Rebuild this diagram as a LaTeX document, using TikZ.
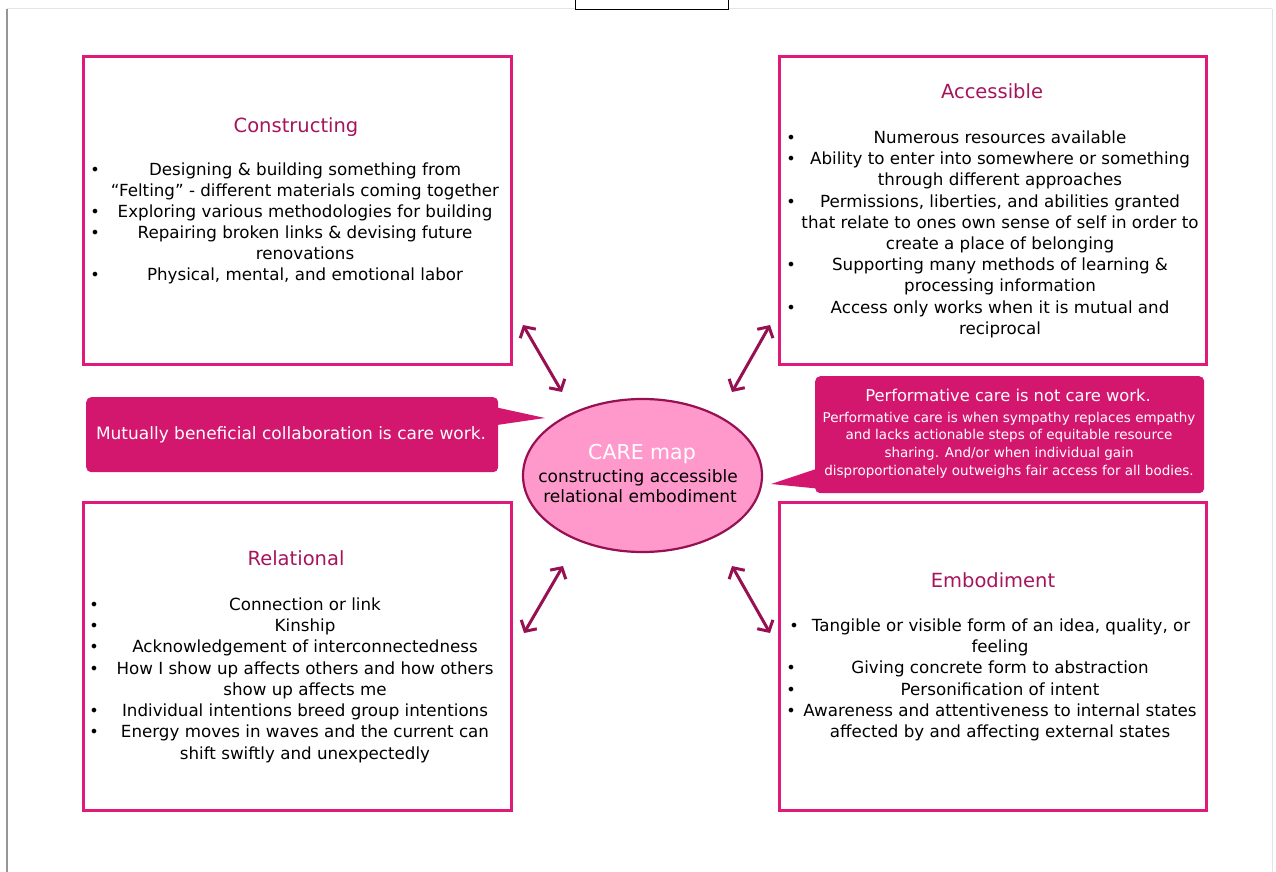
\documentclass[tikz,border=0pt]{standalone}
\usepackage{fontspec}
\setmainfont{DejaVu Sans}
\usetikzlibrary{arrows.meta,shapes.geometric}
\definecolor{boxpink}{RGB}{224,26,122}
\definecolor{callfill}{RGB}{211,23,111}
\definecolor{ellfill}{RGB}{255,153,204}
\definecolor{darkmag}{RGB}{150,16,82}
\definecolor{titlecol}{RGB}{165,20,92}
\definecolor{framegray}{RGB}{150,150,150}
\definecolor{framelight}{RGB}{228,228,228}
\begin{document}
\begin{tikzpicture}[x=1pt,y=-1pt,
  panel/.style={draw=boxpink, line width=3pt},
  ttl/.style={anchor=base, text=titlecol, font=\fontsize{19.5}{22}\selectfont, inner sep=0pt},
  ln/.style={anchor=base, font=\fontsize{16.7}{19}\selectfont, inner sep=0pt},
  bul/.style={anchor=base, font=\fontsize{16}{18}\selectfont, inner sep=0pt},
  wln/.style={anchor=base, text=white, inner sep=0pt},
  conn/.style={draw=darkmag, line width=3pt, {Straight Barb[length=8pt,width=18pt]}-{Straight Barb[length=8pt,width=18pt]}},
  callbox/.style={fill=callfill, rounded corners=5pt, inner sep=0pt}
]
\useasboundingbox (0,0) rectangle (1276,872);
% page frame
\draw[framelight, line width=1pt] (7,9) -- (1272,9);
\draw[framelight, line width=1pt] (1272,9) -- (1272,872);
\draw[framegray, line width=1.4pt] (7,9) -- (7,872);
\draw[black, fill=white, line width=0.8pt] (575,-2) rectangle (728,9);

% panels
\draw[panel] (83,57) rectangle (511,364);
\draw[panel] (779,57) rectangle (1206,364);
\draw[panel] (83,502) rectangle (511,810);
\draw[panel] (779,502) rectangle (1206,810);

% Constructing
\node[ttl] (ct) at (296,132) {Constructing};
\node[bul] (cb1) at (95,175) {•};
\node[ln] (c1) at (305,175) {Designing \& building something from};
\node[ln] (c2) at (305,196) {“Felting” - different materials coming together};
\node[bul] (cb3) at (95,217) {•};
\node[ln] (c3) at (305,217) {Exploring various methodologies for building};
\node[bul] (cb4) at (95,238) {•};
\node[ln] (c4) at (305,238) {Repairing broken links \& devising future};
\node[ln] (c5) at (305,259) {renovations};
\node[bul] (cb6) at (95,280) {•};
\node[ln] (c6) at (305,280) {Physical, mental, and emotional labor};

% Accessible
\node[ttl] (at) at (992,99) {Accessible};
\node[bul] (ab1) at (791,143) {•};
\node[ln] (a1) at (1000,143) {Numerous resources available};
\node[bul] (ab2) at (791,164) {•};
\node[ln] (a2) at (1000,164) {Ability to enter into somewhere or something};
\node[ln] (a3) at (1000,185) {through different approaches};
\node[bul] (ab4) at (791,207) {•};
\node[ln] (a4) at (1000,207) {Permissions, liberties, and abilities granted};
\node[ln] (a5) at (1000,228) {that relate to ones own sense of self in order to};
\node[ln] (a6) at (1000,249) {create a place of belonging};
\node[bul] (ab7) at (791,270) {•};
\node[ln] (a7) at (1000,270) {Supporting many methods of learning \&};
\node[ln] (a8) at (1000,291) {processing information};
\node[bul] (ab9) at (791,313) {•};
\node[ln] (a9) at (1000,313) {Access only works when it is mutual and};
\node[ln] (a10) at (1000,334) {reciprocal};

% Relational
\node[ttl] (rt) at (296,565) {Relational};
\node[bul] (rb1) at (94,610) {•};
\node[ln] (r1) at (305,610) {Connection or link};
\node[bul] (rb2) at (94,631) {•};
\node[ln] (r2) at (305,631) {Kinship};
\node[bul] (rb3) at (94,652) {•};
\node[ln] (r3) at (305,652) {Acknowledgement of interconnectedness};
\node[bul] (rb4) at (94,674) {•};
\node[ln] (r4) at (305,674) {How I show up affects others and how others};
\node[ln] (r5) at (305,695) {show up affects me};
\node[bul] (rb6) at (94,716) {•};
\node[ln] (r6) at (305,716) {Individual intentions breed group intentions};
\node[bul] (rb7) at (94,737) {•};
\node[ln] (r7) at (305,737) {Energy moves in waves and the current can};
\node[ln] (r8) at (305,759) {shift swiftly and unexpectedly};

% Embodiment
\node[ttl] (et) at (993,587) {Embodiment};
\node[bul] (eb1) at (794,631) {•};
\node[ln] (e1) at (1001,631) {Tangible or visible form of an idea, quality, or};
\node[ln] (e2) at (1000,652) {feeling};
\node[bul] (eb3) at (791,673) {•};
\node[ln] (e3) at (1000,673) {Giving concrete form to abstraction};
\node[bul] (eb4) at (791,695) {•};
\node[ln] (e4) at (1000,695) {Personification of intent};
\node[bul] (eb5) at (791,716) {•};
\node[ln] (e5) at (1000,716) {Awareness and attentiveness to internal states};
\node[ln] (e6) at (1000,737) {affected by and affecting external states};

% left callout
\fill[callfill] (490,406) -- (545,418) -- (490,426) -- cycle;
\node[callbox, minimum width=412pt, minimum height=75pt, anchor=north west] (lcall) at (86,397) {};
\node[wln, font=\fontsize{17}{19}\selectfont] (lcallt) at (291,439) {Mutually beneficial collaboration is care work.};

% right callout
\fill[callfill] (822,467) -- (771,484) -- (822,489) -- cycle;
\node[callbox, minimum width=389pt, minimum height=117pt, anchor=north west] (rcall) at (815,376) {};
\node[wln, font=\fontsize{16.3}{18}\selectfont] (rc0) at (1008,401) {Performative care is not care work.};
\node[wln, font=\fontsize{13.5}{15}\selectfont] (rc1) at (1009,422) {Performative care is when sympathy replaces empathy};
\node[wln, font=\fontsize{13.5}{15}\selectfont] (rc2) at (1009,439) {and lacks actionable steps of equitable resource};
\node[wln, font=\fontsize{13.5}{15}\selectfont] (rc3) at (1009,457) {sharing. And/or when individual gain};
\node[wln, font=\fontsize{13.5}{15}\selectfont] (rc4) at (1009,475) {disproportionately outweighs fair access for all bodies.};

% center ellipse
\node[ellipse, draw=darkmag, line width=2.2pt, fill=ellfill, minimum width=239pt, minimum height=153pt, inner sep=0pt] (care) at (642.5,475.5) {};
\node[wln, font=\fontsize{20.5}{22}\selectfont] (care0) at (642,459) {CARE map};
\node[ln, font=\fontsize{17}{19}\selectfont] (care1) at (638,482) {constructing accessible};
\node[ln, font=\fontsize{17}{19}\selectfont] (care2) at (640,502) {relational embodiment};

% arrows
\coordinate (tl1) at (523,325);
\coordinate (tl2) at (562,392);
\coordinate (tr1) at (770,325);
\coordinate (tr2) at (732,392);
\coordinate (bl1) at (563,566);
\coordinate (bl2) at (524,633);
\coordinate (br1) at (732,566);
\coordinate (br2) at (770,633);
\draw[conn] (tl1) -- (tl2);
\draw[conn] (tr1) -- (tr2);
\draw[conn] (bl1) -- (bl2);
\draw[conn] (br1) -- (br2);
\end{tikzpicture}
\end{document}
